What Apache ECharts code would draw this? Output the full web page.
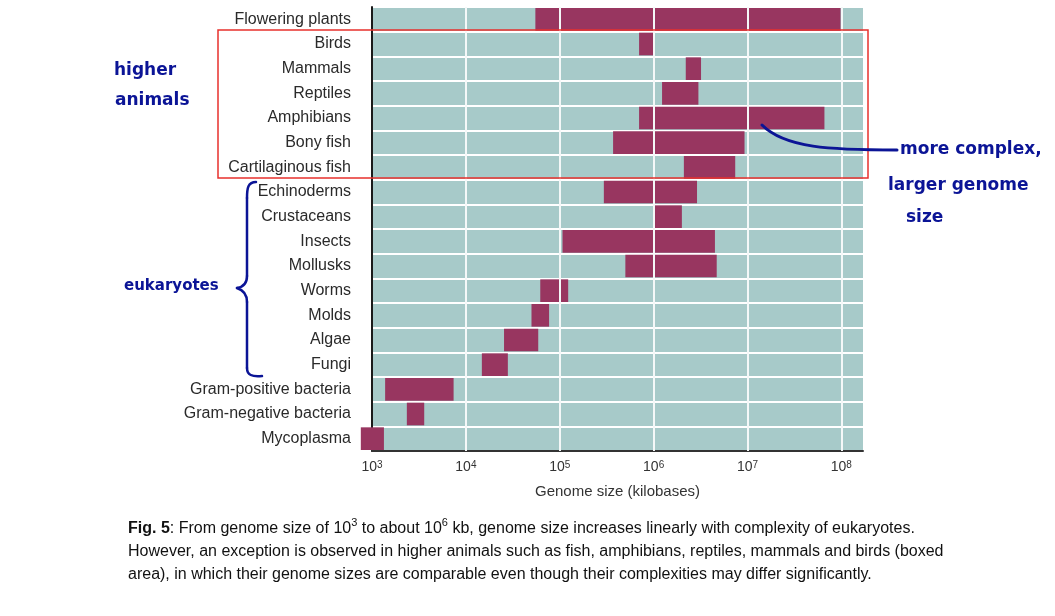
<!DOCTYPE html>
<html>
<head>
<meta charset="utf-8">
<script src="https://cdn.jsdelivr.net/npm/echarts@6/dist/echarts.min.js"></script>
<style>
    html, body { margin: 0; padding: 0; background: #fff; }
    #genomeChart { width: 1055px; height: 616px; }
</style>
</head>
<body>
<div id="genomeChart"></div>
<script>
// rows, top to bottom
const categories = [
    'Flowering plants', 'Birds', 'Mammals', 'Reptiles', 'Amphibians', 'Bony fish',
    'Cartilaginous fish', 'Echinoderms', 'Crustaceans', 'Insects', 'Mollusks', 'Worms',
    'Molds', 'Algae', 'Fungi', 'Gram-positive bacteria', 'Gram-negative bacteria', 'Mycoplasma'
];
// genome size range, kilobases
const lowKb  = [55000, 700000, 2200000, 1230000, 700000, 370000, 2100000, 295000, 1020000,
                107000, 500000, 62000, 50000, 25500, 14800, 1380, 2350, 760];
const highKb = [98000000, 1020000, 3200000, 3000000, 66000000, 9300000, 7400000, 2900000, 2000000,
                4500000, 4700000, 123000, 77000, 59000, 28000, 7400, 3600, 1340];
const decades = [10000, 100000, 1000000, 10000000, 100000000];
const xAxisName = 'Genome size (kilobases)';

let chartDom = document.getElementById('genomeChart');
let myChart = echarts.init(chartDom);

let rangeData = categories.map((c, i) => [lowKb[i], highKb[i], i]);

const blue = '#0b1496';
const handFont = 'bold 17px "DejaVu Sans"';

// hand drawn bits
function curve(x1, y1, cpx1, cpy1, cpx2, cpy2, x2, y2, w) {
    return {
        type: 'bezierCurve',
        shape: { x1: x1, y1: y1, cpx1: cpx1, cpy1: cpy1, cpx2: cpx2, cpy2: cpy2, x2: x2, y2: y2 },
        style: { fill: 'none', stroke: blue, lineWidth: w, lineCap: 'round' },
        z: 50
    };
}
function seg(x1, y1, x2, y2, w) {
    return {
        type: 'line',
        shape: { x1: x1, y1: y1, x2: x2, y2: y2 },
        style: { stroke: blue, lineWidth: w, lineCap: 'round' },
        z: 50
    };
}

const option = {
    animation: false,
    grid: {
        left: 372,
        right: 192,
        top: 7,
        bottom: 165
    },
    xAxis: {
        type: 'log',
        logBase: 10,
        min: 1000,
        max: 170000000,
        name: xAxisName,
        nameLocation: 'middle',
        nameGap: 33,
        nameTextStyle: { fontFamily: 'Liberation Sans', fontSize: 15, color: '#333' },
        axisLine: { show: true, lineStyle: { color: '#333', width: 2 } },
        axisTick: { show: false },
        splitLine: { show: false },
        axisLabel: {
            showMaxLabel: false,
            margin: 9,
            formatter: function (v) {
                let e = Math.round(Math.log10(v));
                return '{b|10}{s|' + e + '}';
            },
            rich: {
                b: { fontFamily: 'Liberation Sans', fontSize: 14, color: '#333' },
                s: { fontFamily: 'Liberation Sans', fontSize: 10, color: '#333', verticalAlign: 'top' }
            }
        }
    },
    yAxis: {
        type: 'category',
        inverse: true,
        data: categories,
        axisLine: { show: true, lineStyle: { color: '#1a1a1a', width: 2 } },
        axisTick: { show: false },
        axisLabel: {
            interval: 0,
            margin: 21,
            fontFamily: 'Liberation Sans',
            fontSize: 16,
            color: '#2a2a2a'
        },
        splitLine: { show: true, interval: 0, lineStyle: { color: '#fff', width: 2 } },
        splitArea: { show: true, interval: 0, areaStyle: { color: ['#a7cac9', '#a7cac9'] } }
    },
    series: [
        {
            type: 'custom',
            name: 'range',
            clip: false,
            encode: { x: [0, 1], y: 2 },
            data: rangeData,
            renderItem: function (params, api) {
                let start = api.coord([api.value(0), api.value(2)]);
                let end = api.coord([api.value(1), api.value(2)]);
                let h = api.size([1, 1])[1];
                return {
                    type: 'rect',
                    shape: { x: start[0], y: start[1] - h / 2 + 1, width: end[0] - start[0], height: h - 2 },
                    style: { fill: '#983660' }
                };
            }
        },
        {
            // white decade lines drawn over the bars
            type: 'line',
            name: 'decades',
            data: [],
            silent: true,
            markLine: {
                silent: true,
                symbol: 'none',
                label: { show: false },
                lineStyle: { color: '#f4f8f8', width: 2, type: 'solid' },
                emphasis: { disabled: true },
                data: decades.map(v => ({ xAxis: v }))
            }
        }
    ],
    graphic: [
        // boxed area
        {
            type: 'rect',
            shape: { x: 218, y: 30, width: 650, height: 148 },
            style: { fill: 'none', stroke: '#e8302c', lineWidth: 1.5 },
            z: 50
        },
        { type: 'text', style: { text: 'higher', x: 114, y: 62, font: handFont, fill: blue }, z: 50 },
        { type: 'text', style: { text: 'animals', x: 115, y: 92, font: handFont, fill: blue }, z: 50 },
        { type: 'text', style: { text: 'eukaryotes', x: 124, y: 279, font: 'bold 15px "DejaVu Sans"', fill: blue }, z: 50 },
        // brace
        curve(256, 182, 248, 182, 247, 188, 247, 198, 2.5),
        seg(247, 198, 247, 276, 2.5),
        curve(247, 276, 247, 284, 243, 287, 237, 288, 2.5),
        curve(237, 288, 243, 290, 247, 294, 247, 302, 2.5),
        seg(247, 302, 247, 368, 2.5),
        curve(247, 368, 247, 375, 252, 377, 262, 376, 2.5),
        // pointer to amphibians
        curve(762, 125, 785, 148, 830, 150, 897, 150, 3),
        { type: 'text', style: { text: 'more complex,', x: 900, y: 141, font: handFont, fill: blue }, z: 50 },
        { type: 'text', style: { text: 'larger genome', x: 888, y: 177, font: handFont, fill: blue }, z: 50 },
        { type: 'text', style: { text: 'size', x: 906, y: 209, font: handFont, fill: blue }, z: 50 },
        // caption
        {
            type: 'text',
            style: {
                x: 128, y: 517,
                text: '{b|Fig. 5}: From genome size of 10{s|3} to about 10{s|6} kb, genome size increases linearly with complexity of eukaryotes.\n' +
                      'However, an exception is observed in higher animals such as fish, amphibians, reptiles, mammals and birds (boxed\n' +
                      'area), in which their genome sizes are comparable even though their complexities may differ significantly.',
                font: '16px "Liberation Sans"',
                fill: '#111',
                lineHeight: 23,
                rich: {
                    b: { font: 'bold 16px "Liberation Sans"', fill: '#111' },
                    s: { font: '11px "Liberation Sans"', fill: '#111', verticalAlign: 'top' }
                }
            }
        }
    ]
};
myChart.setOption(option);
</script>
</body>
</html>
